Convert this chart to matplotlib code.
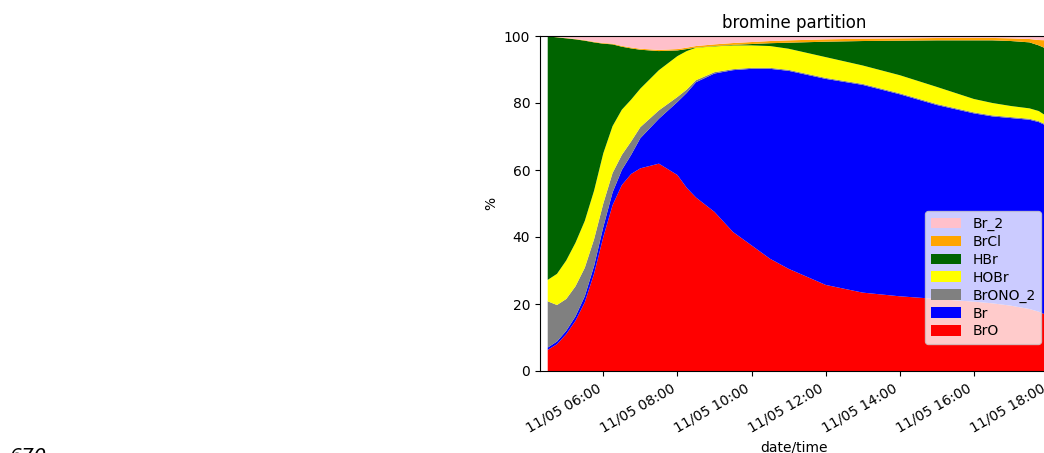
import numpy as np
import pandas as pd
import matplotlib
matplotlib.use("Agg")
import matplotlib.pyplot as plt
import matplotlib.dates as mdates

# times of the model output (hours on 11/05)
hours = [4.5, 4.75, 5.0, 5.25, 5.5, 5.75, 6.0, 6.25, 6.5, 6.75, 7.0, 7.5, 8.0, 8.25,
         8.5, 9.0, 9.5, 10.0, 10.5, 11.0, 12.0, 13.0, 14.0, 15.0, 16.0, 16.5, 17.0,
         17.5, 17.75, 18.0]

# percent of total bromine, per species
bro = [6.3, 8.0, 11.0, 15.0, 20.5, 29.0, 40.0, 49.5, 55.5, 58.8, 60.5, 61.9, 58.5, 54.7,
       51.8, 47.5, 41.5, 37.5, 33.5, 30.5, 25.7, 23.4, 22.3, 21.5, 20.7, 20.2, 19.5,
       18.5, 17.7, 16.5]
br = [0.7, 0.8, 1.0, 1.3, 1.8, 2.3, 3.0, 3.8, 4.5, 5.7, 9.0, 13.4, 21.8, 28.3,
      34.4, 41.3, 48.3, 52.7, 56.7, 59.1, 61.5, 62.0, 60.3, 57.9, 56.2, 55.8, 56.0,
      56.5, 56.6, 56.5]
brono2 = [13.8, 10.9, 9.5, 9.0, 8.5, 8.0, 7.0, 5.8, 4.5, 4.0, 3.3, 2.5, 1.5, 1.0,
          0.6, 0.4, 0.3, 0.3, 0.3, 0.3, 0.3, 0.3, 0.3, 0.3, 0.3, 0.3, 0.3,
          0.3, 0.3, 0.3]
hobr = [6.4, 9.3, 11.5, 13.0, 14.0, 14.5, 15.0, 14.0, 13.5, 12.5, 11.5, 12.0, 12.2, 11.5,
        9.7, 7.7, 7.1, 6.7, 6.5, 6.3, 6.2, 5.5, 5.4, 5.1, 4.0, 3.7, 3.3,
        3.1, 3.0, 2.5]
hbr = [72.7, 70.6, 66.3, 60.7, 53.8, 44.3, 32.7, 24.4, 18.8, 15.3, 11.6, 5.7, 1.7, 0.6,
       0.05, 0.1, 0.15, 0.4, 0.85, 1.8, 4.6, 7.3, 10.3, 13.9, 17.5, 18.7, 19.4,
       19.7, 19.6, 20.2]
brcl = [0.05, 0.08, 0.1, 0.12, 0.15, 0.18, 0.2, 0.22, 0.25, 0.28, 0.3, 0.35, 0.4, 0.42,
        0.45, 0.5, 0.55, 0.6, 0.65, 0.7, 0.7, 0.7, 0.7, 0.7, 0.7, 0.72, 0.8,
        1.0, 1.6, 2.7]
br2 = [0.05, 0.3, 0.6, 0.9, 1.3, 1.7, 2.1, 2.5, 3.0, 3.4, 3.8, 4.2, 3.9, 3.5,
       3.0, 2.5, 2.1, 1.8, 1.5, 1.3, 1.0, 0.8, 0.7, 0.6, 0.6, 0.6, 0.7,
       0.9, 1.2, 1.3]

names = ['BrO', 'Br', 'BrONO_2', 'HOBr', 'HBr', 'BrCl', 'Br_2']
colors = ['red', 'blue', 'grey', 'yellow', 'darkgreen', 'orange', 'pink']

times = pd.Timestamp('2019-11-05') + pd.to_timedelta(hours, unit='h')

fig = plt.figure(figsize=(10.44, 4.53), dpi=100)
ax = fig.add_axes([540 / 1044, 82 / 453, 508 / 1044, 335 / 453])

ax.stackplot(times, bro, br, brono2, hobr, hbr, brcl, br2, labels=names, colors=colors)

ax.set_xlim(pd.Timestamp('2019-11-05 04:17:30'), pd.Timestamp('2019-11-05 18:00'))
ax.set_ylim(0, 100)
ax.xaxis.set_major_locator(mdates.HourLocator(byhour=range(0, 24, 2)))
ax.xaxis.set_major_formatter(mdates.DateFormatter('%m/%d %H:%M'))
plt.setp(ax.get_xticklabels(), rotation=30, ha='right')

ax.set_title('bromine partition')
ax.set_xlabel('date/time')
ax.set_ylabel('%')

# legend in reverse so it reads top-down like the stack
h, l = ax.get_legend_handles_labels()
ax.legend(h[::-1], l[::-1], loc='lower right', bbox_to_anchor=(1.0, 0.06),
          labelspacing=0.28, handleheight=0.8, handlelength=2.2)

# stray label at bottom left
fig.text(10 / 1044, 6 / 453, '670', fontsize=14, style='italic', va='top', ha='left')

fig.savefig('out.png', dpi=100)
